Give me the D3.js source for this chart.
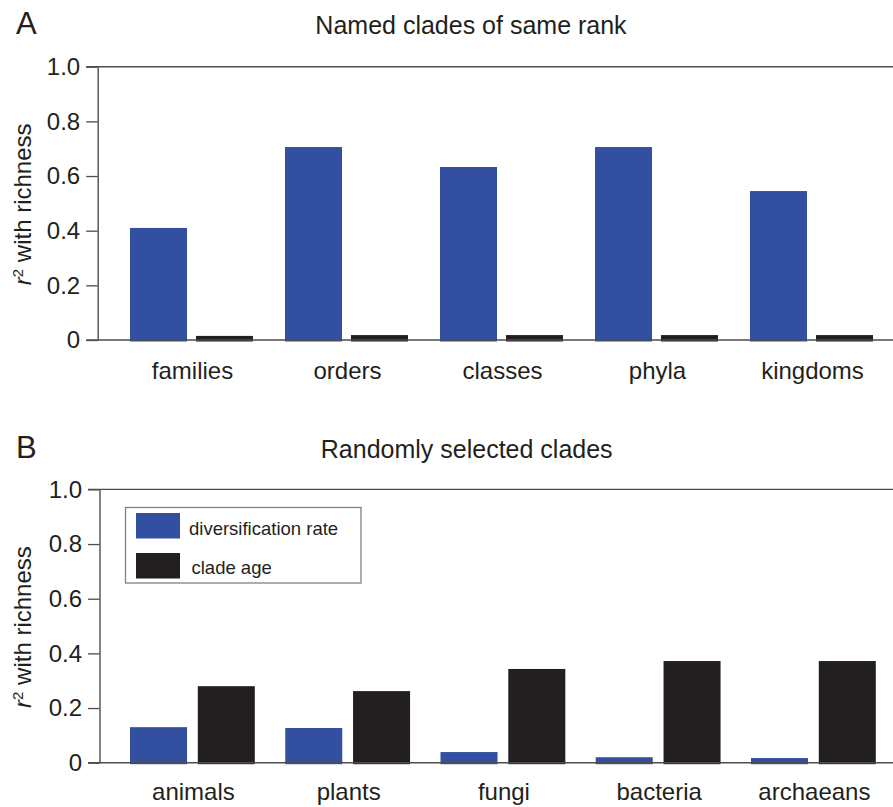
<!DOCTYPE html>
<html>
<head>
<meta charset="utf-8">
<script src="https://cdn.jsdelivr.net/npm/d3@7"></script>
<style>
  html, body { margin: 0; padding: 0; background: #fff; }
  svg { display: block; font-family: "Liberation Sans", Arial, Helvetica, sans-serif; }
</style>
</head>
<body>
<svg id="chart" width="893" height="807"></svg>
<script>
// Panel A: named clades of the same taxonomic rank
const categoriesA = ["families", "orders", "classes", "phyla", "kingdoms"];
const rateA = [0.41, 0.706, 0.633, 0.706, 0.545];
const ageA = [0.015, 0.018, 0.018, 0.018, 0.018];

// Panel B: randomly selected clades
const categoriesB = ["animals", "plants", "fungi", "bacteria", "archaeans"];
const rateB = [0.13, 0.127, 0.039, 0.02, 0.017];
const ageB = [0.28, 0.262, 0.343, 0.372, 0.372];

const seriesKeys = ["rate", "age"];
const seriesNames = ["diversification rate", "clade age"];
const yTicks = [0, 0.2, 0.4, 0.6, 0.8, 1.0];

const colors = { rate: "#3350a0", age: "#231f20" };
const axisColor = "#4d4d4d";

const svg = d3.select("#chart");

function drawPanel(cfg) {
  const g = svg.append("g");
  const { cats, rate, age } = cfg;
  const rows = cats.map((c, i) => ({ cat: c, rate: rate[i], age: age[i] }));

  const x0 = d3.scaleBand().domain(cats)
    .range([cfg.left, cfg.right])
    .paddingInner(cfg.padInner).paddingOuter(cfg.padOuter);
  const x1 = d3.scaleBand().domain(seriesKeys)
    .range([0, x0.bandwidth()])
    .paddingInner(cfg.padSeries);
  const y = d3.scaleLinear().domain([0, 1]).range([cfg.bottom, cfg.top]);

  // bars
  const groups = g.selectAll("g.grp").data(rows).join("g")
    .attr("class", "grp")
    .attr("transform", d => `translate(${x0(d.cat)},0)`);
  groups.selectAll("rect")
    .data(d => seriesKeys.map(k => ({ key: k, value: d[k] })))
    .join("rect")
    .attr("x", d => x1(d.key))
    .attr("width", x1.bandwidth())
    .attr("y", d => y(d.value))
    .attr("height", d => y(0) - y(d.value) + 1.5)
    .attr("fill", d => colors[d.key]);

  // frame lines along 0 and 1.0
  [0, 1].forEach(v => {
    g.append("line")
      .attr("x1", cfg.left - cfg.tick).attr("x2", cfg.right)
      .attr("y1", y(v)).attr("y2", y(v))
      .attr("stroke", axisColor).attr("stroke-width", 1.4);
  });

  // y axis
  const yAxis = d3.axisLeft(y)
    .tickValues(yTicks)
    .tickSize(cfg.tick)
    .tickSizeOuter(0)
    .tickPadding(6)
    .tickFormat(d => d === 0 ? "0" : d3.format(".1f")(d));
  const ax = g.append("g").attr("transform", `translate(${cfg.left},0)`).call(yAxis);
  ax.select(".domain").attr("stroke", axisColor).attr("stroke-width", 1.4);
  ax.selectAll(".tick line").attr("stroke", axisColor).attr("stroke-width", 1.3);
  ax.selectAll(".tick text")
    .attr("fill", "#231f20")
    .style("font-size", "24px")
    .style("font-family", "\"Liberation Sans\", Arial, sans-serif");

  // category labels
  g.selectAll("text.cat").data(cats).join("text")
    .attr("class", "cat")
    .attr("x", d => x0(d) + x0.bandwidth() / 2 + 1)
    .attr("y", cfg.catBaseline)
    .attr("text-anchor", "middle")
    .attr("fill", "#231f20")
    .style("font-size", "24px")
    .text(d => d);

  // y-axis title
  const yl = g.append("text")
    .attr("transform", `translate(31,${(cfg.top + cfg.bottom) / 2 + 1}) rotate(-90)`)
    .attr("text-anchor", "middle")
    .attr("fill", "#231f20")
    .style("font-size", "24px");
  yl.append("tspan").attr("font-style", "italic").text("r");
  yl.append("tspan").attr("dy", -8).style("font-size", "15px").text("2");
  yl.append("tspan").attr("dy", 8).text(" with richness");

  // panel title
  g.append("text")
    .attr("x", cfg.titleX).attr("y", cfg.titleBaseline)
    .attr("text-anchor", "middle")
    .attr("fill", "#231f20")
    .style("font-size", "25px")
    .text(cfg.title);

  // panel letter
  g.append("text")
    .attr("x", 16).attr("y", cfg.titleBaseline)
    .attr("fill", "#231f20")
    .style("font-size", "31px")
    .text(cfg.letter);

  return { x0, y };
}

drawPanel({
  cats: categoriesA, rate: rateA, age: ageA,
  left: 97.7, right: 905.3, top: 66.7, bottom: 340,
  padInner: 0.2065, padOuter: 0.2084, padSeries: 0.136,
  tick: 11.5, catBaseline: 379,
  title: "Named clades of same rank", titleX: 471, titleBaseline: 34.3,
  letter: "A"
});

drawPanel({
  cats: categoriesB, rate: rateB, age: ageB,
  left: 99.5, right: 906.3, top: 489.4, bottom: 762.7,
  padInner: 0.196, padOuter: 0.1965, padSeries: 0.159,
  tick: 11.5, catBaseline: 800,
  title: "Randomly selected clades", titleX: 466.7, titleBaseline: 457.5,
  letter: "B"
});

// legend for panel B
const legend = svg.append("g").attr("transform", "translate(125.5,507.5)");
legend.append("rect")
  .attr("width", 235.5).attr("height", 75.5)
  .attr("fill", "#fff").attr("stroke", "#808080").attr("stroke-width", 1.3);
seriesKeys.forEach((k, i) => {
  legend.append("rect")
    .attr("x", 10.5).attr("y", 5.5 + i * 40)
    .attr("width", 44).attr("height", 25.5)
    .attr("fill", colors[k]);
  legend.append("text")
    .attr("x", i === 0 ? 63.5 : 66)
    .attr("y", 27.5 + i * 39)
    .attr("fill", "#231f20")
    .style("font-size", "18.5px")
    .text(seriesNames[i]);
});
</script>
</body>
</html>
